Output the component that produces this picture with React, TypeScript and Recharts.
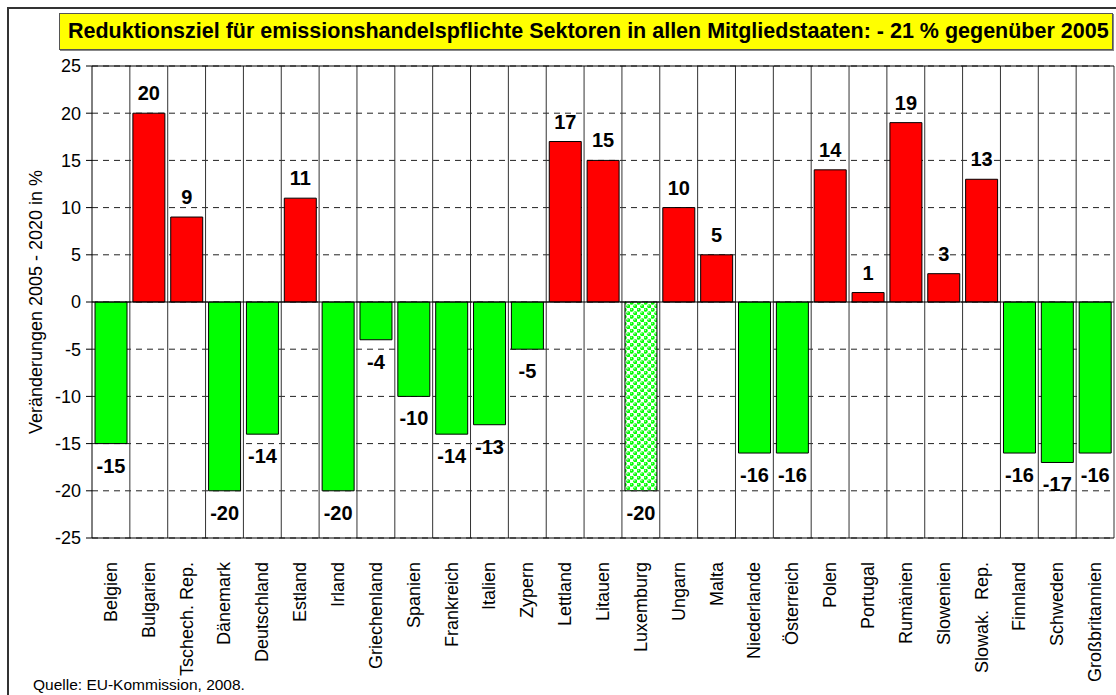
import {
  Bar,
  BarChart,
  CartesianGrid,
  Cell,
  LabelList,
  ReferenceLine,
  XAxis,
  YAxis,
} from "recharts";

const countries = [
  "Belgien",
  "Bulgarien",
  "Tschech. Rep.",
  "Dänemark",
  "Deutschland",
  "Estland",
  "Irland",
  "Griechenland",
  "Spanien",
  "Frankreich",
  "Italien",
  "Zypern",
  "Lettland",
  "Litauen",
  "Luxemburg",
  "Ungarn",
  "Malta",
  "Niederlande",
  "Österreich",
  "Polen",
  "Portugal",
  "Rumänien",
  "Slowenien",
  "Slowak.  Rep.",
  "Finnland",
  "Schweden",
  "Großbritannien",
];

const changes = [
  -15, 20, 9, -20, -14, 11, -20, -4, -10, -14, -13, -5, 17, 15, -20, 10, 5, -16, -16, 14, 1,
  19, 3, 13, -16, -17, -16,
];

const patternedCountries = ["Luxemburg"];

const yTicks = [25, 20, 15, 10, 5, 0, -5, -10, -15, -20, -25];

const title =
  "Reduktionsziel für emissionshandelspflichte Sektoren in allen Mitgliedstaaten: - 21 % gegenüber 2005";
const yLabel = "Veränderungen 2005 - 2020 in %";
const source = "Quelle: EU-Kommission, 2008.";

const font = "'Liberation Sans', Arial, Helvetica, sans-serif";

const data = countries.map((country, i) => ({ country, value: changes[i] }));

function CountryTick({ x, y, payload }: any) {
  return (
    <text
      x={x}
      y={y}
      transform={`rotate(-90, ${x}, ${y})`}
      textAnchor="end"
      dominantBaseline="central"
      fontFamily={font}
      fontSize={18}
      fill="#000"
      style={{ whiteSpace: "pre" }}
    >
      {payload.value}
    </text>
  );
}

function ValueLabel({ x, y, width, height, value }: any) {
  const top = Math.min(y, y + height);
  const bottom = Math.max(y, y + height);
  const cy = value >= 0 ? top - 20 : bottom + 22;
  return (
    <text
      x={x + width / 2}
      y={cy}
      textAnchor="middle"
      dominantBaseline="central"
      fontFamily={font}
      fontSize={20}
      fontWeight="bold"
      fill="#000"
    >
      {value}
    </text>
  );
}

export default function App() {
  return (
    <div
      style={{
        position: "fixed",
        left: 0,
        top: 0,
        width: 1116,
        height: 695,
        overflow: "hidden",
        background: "#fff",
        fontFamily: font,
      }}
    >
      <div
        style={{
          position: "absolute",
          left: 7,
          top: 7,
          width: 1140,
          height: 720,
          border: "2px solid #333",
        }}
      />
      <div
        style={{
          position: "absolute",
          left: 59,
          top: 13,
          width: 1054,
          height: 37,
          background: "#ffff00",
          border: "1px solid #555",
          boxShadow: "1px 1px 0 #888",
          boxSizing: "border-box",
          fontWeight: "bold",
          fontSize: 21.5,
          lineHeight: "35px",
          paddingLeft: 8,
          whiteSpace: "nowrap",
          color: "#000",
        }}
      >
        {title}
      </div>
      <div style={{ position: "absolute", left: 0, top: 0 }}>
        <BarChart
          width={1116}
          height={695}
          data={data}
          margin={{ top: 66, right: 2, bottom: 37, left: 0 }}
          barCategoryGap="8%"
        >
          <defs>
            <pattern id="luxBalls" width="7" height="7" patternUnits="userSpaceOnUse">
              <rect width="7" height="7" fill="#ffffff" />
              <circle cx="1.75" cy="1.75" r="2" fill="#00ff00" />
              <circle cx="5.25" cy="5.25" r="2" fill="#00ff00" />
              <circle cx="1.3" cy="1.3" r="0.7" fill="#b8ffb8" />
              <circle cx="4.8" cy="4.8" r="0.7" fill="#b8ffb8" />
            </pattern>
          </defs>
          <CartesianGrid vertical={false} stroke="#222" strokeDasharray="6 5" />
          <CartesianGrid
            horizontal={false}
            stroke="#333"
            verticalCoordinatesGenerator={({ offset }: any) =>
              countries.map((_, i) => offset.left + ((i + 1) * offset.width) / countries.length)
            }
          />
          <XAxis
            dataKey="country"
            interval={0}
            height={120}
            tickSize={0}
            tickMargin={24}
            tick={<CountryTick />}
            axisLine={{ stroke: "#000" }}
          />
          <YAxis
            width={92}
            domain={[-25, 25]}
            ticks={yTicks}
            interval={0}
            tickSize={6}
            tickMargin={5}
            axisLine={{ stroke: "#000" }}
            tickLine={{ stroke: "#000" }}
            tick={{ fill: "#000", fontSize: 18, fontFamily: font }}
            label={{
              value: yLabel,
              angle: -90,
              position: "insideLeft",
              offset: 36,
              style: { textAnchor: "middle", fill: "#000", fontSize: 18, fontFamily: font },
            }}
          />
          <ReferenceLine y={25} stroke="#000" />
          <ReferenceLine y={0} stroke="#000" />
          <Bar dataKey="value" stroke="#000" strokeWidth={1} isAnimationActive={false}>
            {data.map((d) => (
              <Cell
                key={d.country}
                fill={
                  patternedCountries.includes(d.country)
                    ? "url(#luxBalls)"
                    : d.value >= 0
                      ? "#ff0000"
                      : "#00ff00"
                }
              />
            ))}
            <LabelList dataKey="value" content={<ValueLabel />} />
          </Bar>
        </BarChart>
      </div>
      <div
        style={{
          position: "absolute",
          left: 33,
          top: 676,
          fontSize: 15.5,
          lineHeight: "18px",
          color: "#000",
        }}
      >
        {source}
      </div>
    </div>
  );
}
